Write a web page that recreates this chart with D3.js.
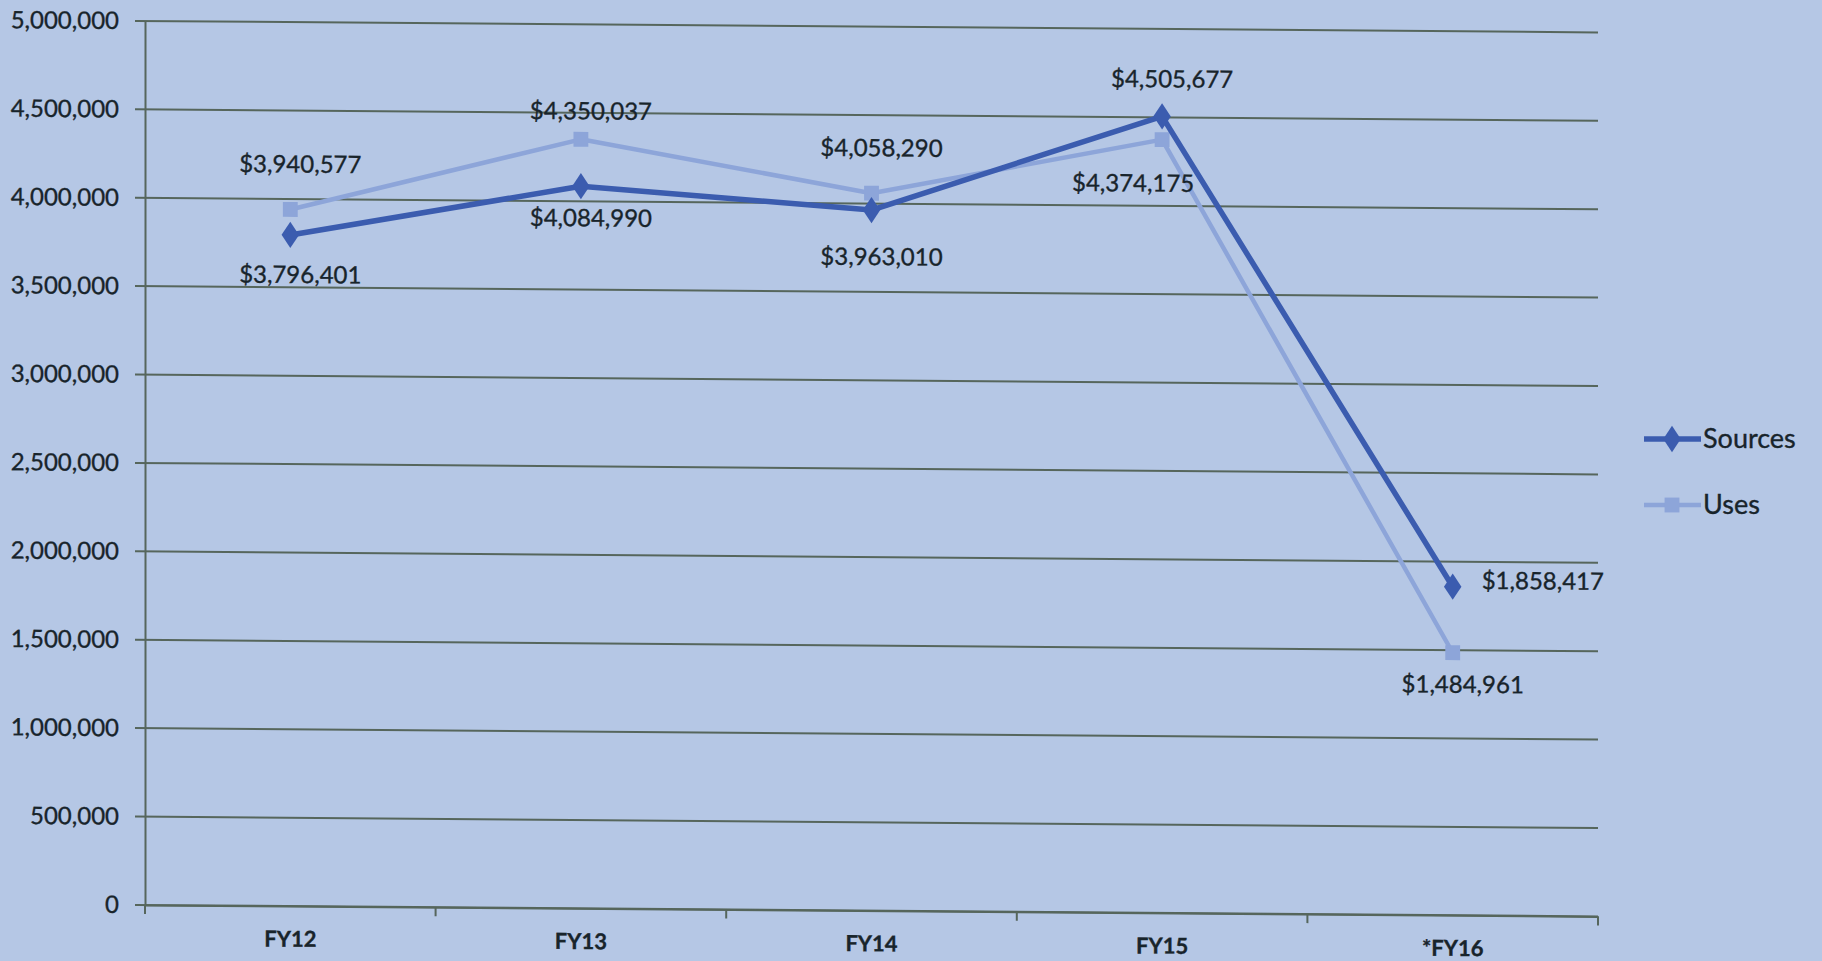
<!DOCTYPE html>
<html><head><meta charset="utf-8">
<script src="https://cdn.jsdelivr.net/npm/d3@7"></script>
<style>
html,body{margin:0;padding:0;background:#b5c7e5;}
svg{display:block;}
text{font-family:Lato,"Open Sans",sans-serif;fill:#18242b;stroke:#18242b;stroke-width:0.35px;}
</style></head><body>
<svg id="chart" width="1822" height="961"></svg>
<script>
const categories = ["FY12","FY13","FY14","FY15","*FY16"];
const sources = [3796401,4084990,3963010,4505677,1858417];
const uses = [3940577,4350037,4058290,4374175,1484961];
const yTicks = [0,500000,1000000,1500000,2000000,2500000,3000000,3500000,4000000,4500000,5000000];
const sourcesLabelPos = ["below","belownear","belowfar","abovenear","right"];
const usesLabelPos = ["above","aboveclose","above","belowleft","belownear"];
const seriesNames = ["Sources","Uses"];

const W=1822,H=961;
const m={left:145,right:1598,top:21,bottom:905};
const svg=d3.select("#chart");
svg.append("rect").attr("width",W).attr("height",H).attr("fill","#b5c7e5");
const g=svg.append("g").attr("transform",`translate(${m.left},${m.top}) skewY(0.45) translate(${-m.left},${-m.top})`);

const x=d3.scaleBand().domain(categories).range([m.left,m.right]);
const y=d3.scaleLinear().domain([0,5000000]).range([m.bottom,m.top]);
const gridColor="#56665c";

// gridlines
g.append("g").selectAll("line").data(yTicks).join("line")
  .attr("x1",m.left-10).attr("x2",m.right)
  .attr("y1",d=>y(d)).attr("y2",d=>y(d))
  .attr("stroke",gridColor).attr("stroke-width",2);

// y axis
const yAxis=d3.axisLeft(y).tickValues(yTicks).tickFormat(d3.format(",")).tickSize(0).tickPadding(26);
const yg=g.append("g").attr("transform",`translate(${m.left},0)`).call(yAxis);
yg.select(".domain").attr("stroke",gridColor).attr("stroke-width",2);
yg.selectAll("text").style("font-size","24px").style("font-family","Lato, sans-serif").attr("fill","#18242b");

// x axis
const xg=g.append("g").attr("transform",`translate(0,${m.bottom})`)
  .call(d3.axisBottom(x).tickSize(0).tickPadding(25));
xg.select(".domain").attr("stroke",gridColor).attr("stroke-width",2);
xg.selectAll("text").style("font-size","22px").style("font-weight","bold").style("font-family","Lato, sans-serif").attr("fill","#18242b");
// boundary ticks
const bounds=categories.map(c=>x(c)).concat([m.right]);
g.append("g").selectAll("line").data(bounds).join("line")
  .attr("x1",d=>d).attr("x2",d=>d).attr("y1",m.bottom).attr("y2",m.bottom+9)
  .attr("stroke",gridColor).attr("stroke-width",2);

const cx=c=>x(c)+x.bandwidth()/2;
const line=d3.line().x((d,i)=>cx(categories[i])).y(d=>y(d));

const usesColor="#8da5d9", srcColor="#3b5caf";
const offs={above:[10,-37],aboveclose:[10,-20],abovenear:[10,-29],below:[10,48],belownear:[10,40],belowfar:[10,55],belowleft:[-29,52],right:[29,2]};

function drawSeries(vals,color,width,shape,pos){
  g.append("path").datum(vals).attr("d",line).attr("fill","none")
    .attr("stroke",color).attr("stroke-width",width).attr("stroke-linejoin","round");
  const sym=d3.symbol().type(shape==="diamond"?d3.symbolDiamond:d3.symbolSquare).size(shape==="diamond"?200:220);
  g.append("g").selectAll("path").data(vals).join("path")
    .attr("d",sym).attr("fill",color)
    .attr("transform",(d,i)=>`translate(${cx(categories[i])},${y(d)})`+(shape==="diamond"?" scale(1.15,1)":""));
  g.append("g").selectAll("text").data(vals).join("text")
    .text(d=>"$"+d3.format(",")(d))
    .attr("font-size","24px")
    .attr("text-anchor",(d,i)=>pos[i]==="right"?"start":"middle")
    .attr("x",(d,i)=>cx(categories[i])+offs[pos[i]][0])
    .attr("y",(d,i)=>y(d)+offs[pos[i]][1]);
}
drawSeries(uses,usesColor,4.5,"square",usesLabelPos);
drawSeries(sources,srcColor,5.5,"diamond",sourcesLabelPos);

// legend
const leg=svg.append("g");
const legItems=[{n:seriesNames[0],c:srcColor,s:"diamond",w:5.5,y:439},{n:seriesNames[1],c:usesColor,s:"square",w:4.5,y:505}];
legItems.forEach(it=>{
  leg.append("line").attr("x1",1644).attr("x2",1701).attr("y1",it.y).attr("y2",it.y).attr("stroke",it.c).attr("stroke-width",it.w);
  leg.append("path").attr("d",d3.symbol().type(it.s==="diamond"?d3.symbolDiamond:d3.symbolSquare).size(it.s==="diamond"?200:220))
    .attr("fill",it.c).attr("transform",`translate(1672,${it.y})`+(it.s==="diamond"?" scale(1.15,1)":""));
  leg.append("text").text(it.n).attr("x",1703).attr("y",it.y+9).attr("font-size","27px");
});
</script></body></html>
